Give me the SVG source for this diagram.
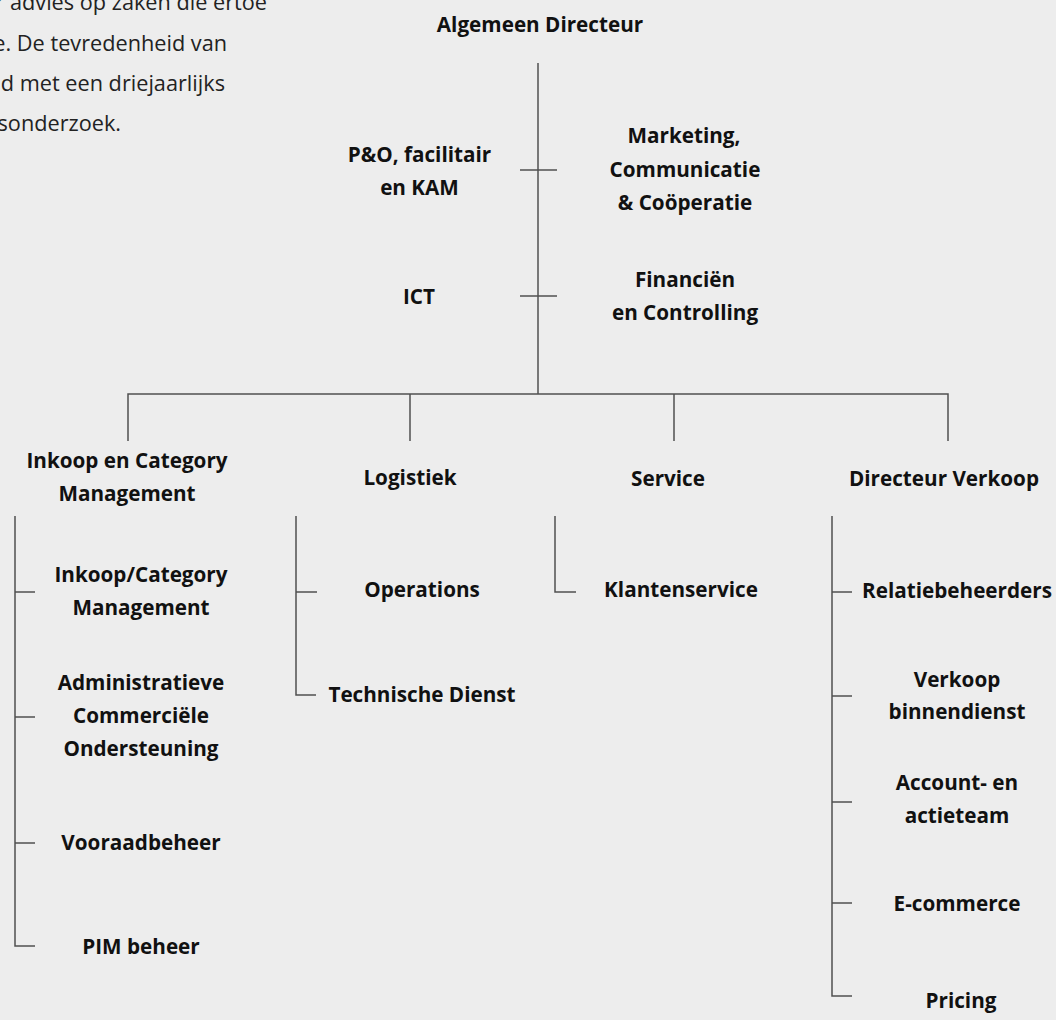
<svg xmlns="http://www.w3.org/2000/svg" width="1056" height="1020" viewBox="0 0 1056 1020">
<style>
.l{font-family:"Open Sans","Noto Sans",sans-serif;font-weight:700;font-size:20.7px;fill:#111;text-anchor:middle}
.p{font-family:"Open Sans","Noto Sans",sans-serif;font-weight:400;font-size:21.7px;fill:#222;text-anchor:end}
.c{fill:none;stroke:#505050;stroke-width:1.5}
</style>
<rect width="1056" height="1020" fill="#ededed"/>
<g id="paragraph">
<text class="p" x="267" y="10">r advies op zaken die ertoe</text>
<text class="p" x="227" y="51">e. De tevredenheid van</text>
<text class="p" x="225" y="91">d met een driejaarlijks</text>
<text class="p" x="121" y="131">sonderzoek.</text>
</g>
<g id="connectors" class="c">
<path d="M538,63V394"/>
<path d="M520,170H557M520,296H557"/>
<path d="M128,441V394H948V441M410,394V441M674,394V441"/>
<path d="M15,516V946H35M15,592H35M15,717H35M15,843H35"/>
<path d="M296,516V695H316M296,592H317"/>
<path d="M555,516V592H576"/>
<path d="M832,516V996H852M832,592H852M832,696H852M832,802H852M832,903H852"/>
</g>
<g id="n-algemeen"><text class="l" x="540" y="32">Algemeen Directeur</text></g>
<g id="n-po"><text class="l" x="419.5" y="162">P&amp;O, facilitair</text><text class="l" x="419.5" y="195">en KAM</text></g>
<g id="n-marketing"><text class="l" x="684" y="143">Marketing,</text><text class="l" x="685" y="176.5">Communicatie</text><text class="l" x="685" y="209.5">&amp; Coöperatie</text></g>
<g id="n-ict"><text class="l" x="419" y="304">ICT</text></g>
<g id="n-financien"><text class="l" x="685" y="287">Financiën</text><text class="l" x="685" y="320">en Controlling</text></g>
<g id="n-inkoop"><text class="l" x="127" y="468">Inkoop en Category</text><text class="l" x="127" y="501">Management</text></g>
<g id="n-logistiek"><text class="l" x="410" y="485">Logistiek</text></g>
<g id="n-service"><text class="l" x="668" y="486">Service</text></g>
<g id="n-verkoop"><text class="l" x="944" y="486">Directeur Verkoop</text></g>
<g id="n-inkoopcat"><text class="l" x="141" y="582">Inkoop/Category</text><text class="l" x="141" y="614.5">Management</text></g>
<g id="n-admin"><text class="l" x="141" y="690">Administratieve</text><text class="l" x="141" y="723">Commerciële</text><text class="l" x="141" y="756">Ondersteuning</text></g>
<g id="n-voorraad"><text class="l" x="141" y="850">Vooraadbeheer</text></g>
<g id="n-pim"><text class="l" x="141" y="954">PIM beheer</text></g>
<g id="n-operations"><text class="l" x="422" y="597">Operations</text></g>
<g id="n-technische"><text class="l" x="422" y="701.5">Technische Dienst</text></g>
<g id="n-klanten"><text class="l" x="681" y="597">Klantenservice</text></g>
<g id="n-relatie"><text class="l" x="957" y="598">Relatiebeheerders</text></g>
<g id="n-binnendienst"><text class="l" x="957" y="687">Verkoop</text><text class="l" x="957" y="718.5">binnendienst</text></g>
<g id="n-account"><text class="l" x="957" y="790">Account- en</text><text class="l" x="957" y="823">actieteam</text></g>
<g id="n-ecommerce"><text class="l" x="957" y="911">E-commerce</text></g>
<g id="n-pricing"><text class="l" x="961" y="1008">Pricing</text></g>
</svg>
